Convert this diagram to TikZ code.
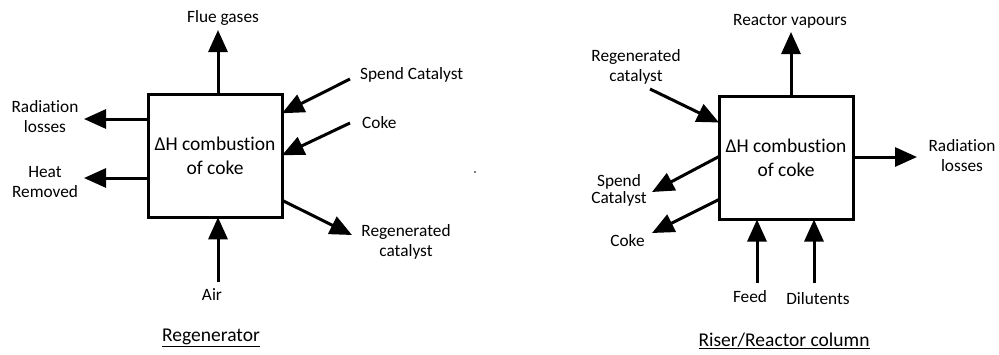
\documentclass[tikz,border=0pt]{standalone}
\usepackage{fontspec}
\setmainfont{Carlito}[Ligatures={NoCommon,NoRare}]
\usetikzlibrary{arrows.meta}
\tikzset{
  blk/.style={draw, line width=3pt, outer sep=0pt, inner sep=0pt, minimum width=134pt, minimum height=123pt, align=center, font=\fontsize{19.5}{24.5}\selectfont},
  lbl/.style={inner sep=0pt, align=center, font=\fontsize{17.3}{20}\selectfont},
  ttl/.style={inner sep=0pt, font=\fontsize{19.5}{23}\selectfont},
  arr/.style={line width=3pt, -{Triangle[width=19pt,length=22pt]}}
}
\begin{document}
\begin{tikzpicture}[x=1pt,y=-1pt]
\useasboundingbox (0,0) rectangle (999,354);
% ---------- Regenerator ----------
\node[blk] (L) at (215,155.75) {ΔH combustion\\of coke};
\coordinate (lflue) at (218,30);
\coordinate (lrad) at (84,119);
\coordinate (lheat) at (84,178);
\coordinate (lspend) at (350,79);
\coordinate (lcoke) at (350,123);
\coordinate (lregen) at (352,235);
\coordinate (lair) at (218,282);
\node[lbl] (tflue) at (223,18) {Flue gases};
\node[lbl] (trad) at (45,117) {Radiation\\losses};
\node[lbl] (theat) at (45,182) {Heat\\Removed};
\node[lbl, anchor=west] (tspend) at (360,75) {Spend Catalyst};
\node[lbl, anchor=west] (tcoke) at (362,123) {Coke};
\node[lbl] (tregen) at (406,242) {Regenerated\\catalyst};
\node[lbl] (tair) at (212,295) {Air};
\node[ttl] (tL) at (211,338) {\underline{Regenerator}};
\draw[arr] (L.north -| lflue) -- (lflue);
\draw[arr] (L.west |- lrad) -- (lrad);
\draw[arr] (L.west |- lheat) -- (lheat);
\draw[arr] (lspend) -- ([yshift=-19pt]L.north east);
\draw[arr] (lcoke) -- ([yshift=-61pt]L.north east);
\draw[arr] ([yshift=17pt]L.south east) -- (lregen);
\draw[arr] (lair) -- (L.south -| lair);
\fill (475,172) circle (0.9pt);
% ---------- Riser / Reactor ----------
\node[blk] (R) at (786,158) {ΔH combustion\\of coke};
\coordinate (rvap) at (791,32);
\coordinate (rregen) at (650,89);
\coordinate (rrad) at (917,157);
\coordinate (rspend) at (652,192);
\coordinate (rcoke) at (652,233);
\coordinate (rfeed) at (757,283);
\coordinate (rdil) at (814,283);
\node[lbl] (tvap) at (790,21) {Reactor vapours};
\node[lbl] (tregen2) at (636,66.5) {Regenerated\\catalyst};
\node[lbl] (trad2) at (962,155.5) {Radiation\\losses};
\node[lbl, font=\fontsize{17.3}{17}\selectfont] (tspend2) at (619,190.5) {Spend\\Catalyst};
\node[lbl] (tcoke2) at (627.5,241) {Coke};
\node[lbl] (tfeed) at (750,297) {Feed};
\node[lbl] (tdil) at (818,299) {Dilutents};
\node[ttl] (tR) at (784,341) {\underline{Riser/Reactor column}};
\draw[arr] (R.north -| rvap) -- (rvap);
\draw[arr] (rregen) -- ([yshift=-26pt]R.north west);
\draw[arr] (R.east |- rrad) -- (rrad);
\draw[arr] ([yshift=-60pt]R.north west) -- (rspend);
\draw[arr] ([yshift=20pt]R.south west) -- (rcoke);
\draw[arr] (rfeed) -- (R.south -| rfeed);
\draw[arr] (rdil) -- (R.south -| rdil);
\end{tikzpicture}
\end{document}
